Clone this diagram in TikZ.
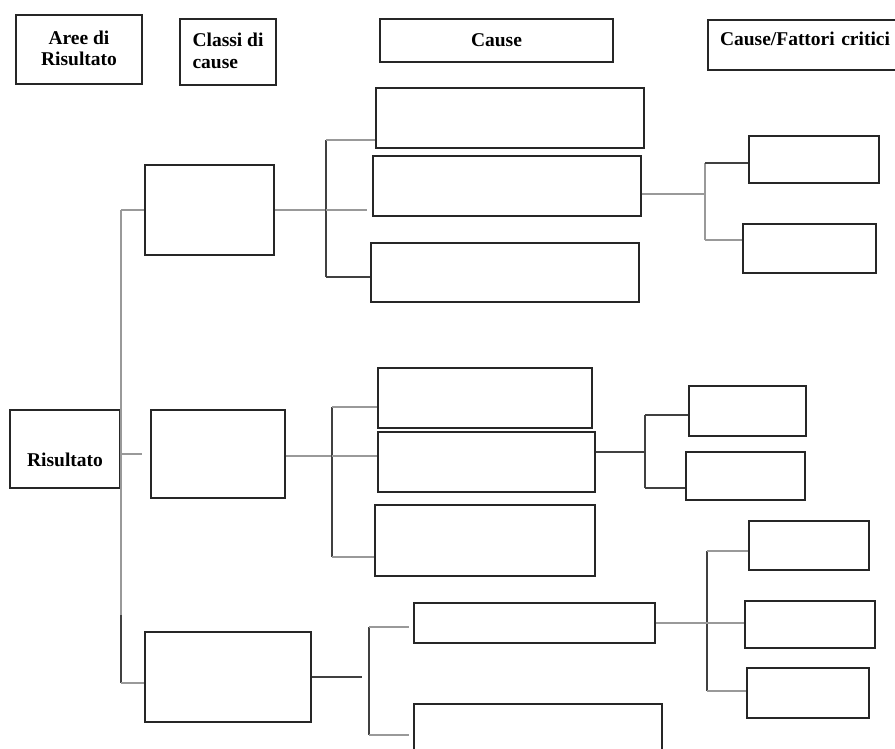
\documentclass[tikz,border=0pt]{standalone}
\usepackage{fontspec}
\setmainfont{Liberation Serif}
\begin{document}
\begin{tikzpicture}[x=1pt,y=-1pt,
  box/.style={draw=black!85, line width=1.2pt, inner sep=0pt, rectangle},
  hdr/.style={box, font=\fontsize{19.5}{21.5}\selectfont\bfseries},
  gline/.style={draw=black!40, line width=1.3pt},
  dline/.style={draw=black!75, line width=1.3pt}]
\useasboundingbox (0,0) rectangle (895,749);
\clip (0,0) rectangle (895,749);
\fill[white] (0,0) rectangle (895,749);

% headers
\node[hdr, minimum width=126, minimum height=69, align=center, text depth=3pt] (hAree) at (79,49.5) {Aree di\\Risultato};
\node[hdr, minimum width=96, minimum height=66, align=left, inner xsep=12pt, text depth=3pt] (hClassi) at (228,52) {Classi di\\cause};
\node[hdr, minimum width=233, minimum height=43] (hCause) at (496.5,40.5) {Cause};
\node[hdr, minimum width=200, minimum height=50, align=left, text width=176pt, inner xsep=12pt, text height=14pt, text depth=12pt] (hFatt) at (808,45) {Cause/Fattori critici};

% result
\node[hdr, minimum width=110, minimum height=78, text height=38pt, text depth=4pt] (R) at (65,449) {Risultato};

% classes
\node[box, minimum width=129, minimum height=90] (C1) at (209.5,210) {};
\node[box, minimum width=134, minimum height=88] (C2) at (218,454) {};
\node[box, minimum width=166, minimum height=90] (C3) at (228,677) {};

% causes
\node[box, minimum width=268, minimum height=60] (A1) at (510,118) {};
\node[box, minimum width=268, minimum height=60] (A2) at (507,186) {};
\node[box, minimum width=268, minimum height=59] (A3) at (505,272.5) {};
\node[box, minimum width=214, minimum height=60] (A4) at (485,398) {};
\node[box, minimum width=217, minimum height=60] (A5) at (486.5,462) {};
\node[box, minimum width=220, minimum height=71] (A6) at (485,540.5) {};
\node[box, minimum width=241, minimum height=40] (A7) at (534.5,623) {};
\node[box, minimum width=248, minimum height=56] (A8) at (538,732) {};

% critical factors
\node[box, minimum width=130, minimum height=47] (F1) at (814,159.5) {};
\node[box, minimum width=133, minimum height=49] (F2) at (809.5,248.5) {};
\node[box, minimum width=117, minimum height=50] (F3) at (747.5,411) {};
\node[box, minimum width=119, minimum height=48] (F4) at (745.5,476) {};
\node[box, minimum width=120, minimum height=49] (F5) at (809,545.5) {};
\node[box, minimum width=130, minimum height=47] (F6) at (810,624.5) {};
\node[box, minimum width=122, minimum height=50] (F7) at (808,693) {};

% main spine
\coordinate (m1) at (121,210);
\coordinate (m2) at (121,454);
\coordinate (mk) at (121,615);
\coordinate (m3) at (121,683);
\draw[gline] (m1) -- (mk);
\draw[dline] (mk) -- (m3);
\draw[gline] (m1) -- (C1.west);
\draw[gline, shorten >=8pt] (m2) -- (C2.west);
\draw[gline] (m3) -- (C3.west |- m3);

% group 1
\coordinate (s1t) at (326,140);
\coordinate (s1m) at (326,210);
\coordinate (s1b) at (326,277);
\draw[gline] (C1.east) -- (s1m);
\draw[dline] (s1t) -- (s1b);
\draw[gline] (s1t) -- (A1.west |- s1t);
\draw[gline, shorten >=5pt] (s1m) -- (A2.west |- s1m);
\draw[dline] (s1b) -- (A3.west |- s1b);
\coordinate (f1t) at (705,163);
\coordinate (f1m) at (705,194);
\coordinate (f1b) at (705,240);
\draw[gline] (A2.east |- f1m) -- (f1m);
\draw[gline] (f1t) -- (f1b);
\draw[dline] (f1t) -- (F1.west |- f1t);
\draw[gline] (f1b) -- (F2.west |- f1b);

% group 2
\coordinate (s2t) at (332,407);
\coordinate (s2m) at (332,456);
\coordinate (s2b) at (332,557);
\draw[gline] (C2.east |- s2m) -- (s2m);
\draw[dline] (s2t) -- (s2b);
\draw[gline] (s2t) -- (A4.west |- s2t);
\draw[gline] (s2m) -- (A5.west |- s2m);
\draw[gline] (s2b) -- (A6.west |- s2b);
\coordinate (f2t) at (645,415);
\coordinate (f2m) at (645,452);
\coordinate (f2b) at (645,488);
\draw[dline] (A5.east |- f2m) -- (f2m);
\draw[dline] (f2t) -- (f2b);
\draw[dline] (f2t) -- (F3.west |- f2t);
\draw[dline] (f2b) -- (F4.west |- f2b);

% group 3
\coordinate (s3t) at (369,627);
\coordinate (s3m) at (369,677);
\coordinate (s3b) at (369,735);
\draw[dline, shorten >=7pt] (C3.east) -- (s3m);
\draw[dline] (s3t) -- (s3b);
\draw[gline, shorten >=4pt] (s3t) -- (A7.west |- s3t);
\draw[gline, shorten >=4pt] (s3b) -- (A8.west |- s3b);
\coordinate (f3t) at (707,551);
\coordinate (f3b) at (707,691);
\draw[dline] (f3t) -- (f3b);
\draw[gline] (A7.east) -- (F6.west |- A7.east);
\draw[gline] (f3t) -- (F5.west |- f3t);
\draw[gline] (f3b) -- (F7.west |- f3b);
\end{tikzpicture}
\end{document}
